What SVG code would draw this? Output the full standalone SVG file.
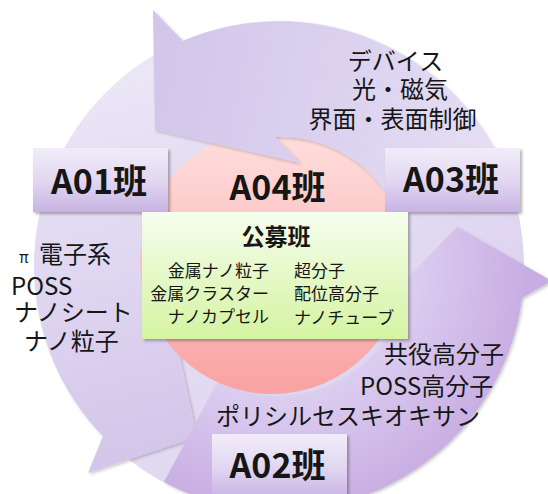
<svg xmlns="http://www.w3.org/2000/svg" width="548" height="494" viewBox="0 0 548 494">
<defs>
<style>
.t{font-family:'Noto Sans CJK JP','Noto Sans',sans-serif;fill:#161616}
.lbl{font-size:34px;font-weight:bold;text-anchor:middle}
.ann{font-size:24px}
.item{font-size:17px}
</style>
<linearGradient id="gBg" x1="0" y1="0" x2="1" y2="1">
<stop offset="0" stop-color="#eeeaf7"/><stop offset="1" stop-color="#d9cdee"/>
</linearGradient>
<linearGradient id="gTop" gradientUnits="userSpaceOnUse" x1="160" y1="80" x2="500" y2="150">
<stop offset="0" stop-color="#d2c6ea"/><stop offset="0.6" stop-color="#ddd4f0"/><stop offset="1" stop-color="#e6dff3"/>
</linearGradient>
<linearGradient id="gLeft" gradientUnits="userSpaceOnUse" x1="90" y1="90" x2="170" y2="450">
<stop offset="0" stop-color="#ebe6f6"/><stop offset="1" stop-color="#d3c6ea"/>
</linearGradient>
<radialGradient id="gBot" gradientUnits="userSpaceOnUse" cx="279" cy="266" r="250">
<stop offset="0.5" stop-color="#dccff0"/><stop offset="0.72" stop-color="#d4c0eb"/><stop offset="1" stop-color="#c8ade2"/>
</radialGradient>
<linearGradient id="gPink" x1="0" y1="0" x2="0" y2="1">
<stop offset="0" stop-color="#ffdede"/><stop offset="1" stop-color="#f9a2a2"/>
</linearGradient>
<linearGradient id="gBox" x1="0" y1="0" x2="0" y2="1">
<stop offset="0" stop-color="#f1ecf9"/><stop offset="0.5" stop-color="#e2d8f2"/><stop offset="1" stop-color="#c8b3e4"/>
</linearGradient>
<linearGradient id="gGreen" x1="0" y1="0" x2="0" y2="1">
<stop offset="0" stop-color="#f5fded"/><stop offset="1" stop-color="#d5f4a2"/>
</linearGradient>
<filter id="sh" x="-10%" y="-10%" width="125%" height="125%">
<feDropShadow dx="2" dy="2" stdDeviation="1.5" flood-color="#000" flood-opacity="0.3"/>
</filter>
<filter id="shs" x="-10%" y="-10%" width="125%" height="125%">
<feDropShadow dx="1.5" dy="1.5" stdDeviation="1.5" flood-color="#000" flood-opacity="0.22"/>
</filter>
</defs>

<g id="background">
<circle cx="279" cy="266" r="245" fill="url(#gBg)"/>
</g>

<g id="connectors">
<path id="arrow-left" filter="url(#shs)" fill="url(#gLeft)" d="M175.5,44 A245,245 0 0 0 103,436 L88,473 L197,437 L178,348 A130,130 0 0 1 239,142 Z"/>
<path id="arrow-bottom" filter="url(#shs)" fill="url(#gBot)" d="M164,482 A245,245 0 0 0 522,298 L552,281 L457,227 L408,278 A130,130 0 0 1 218,381 Z"/>
</g>

<g id="A04">
<circle cx="272" cy="262" r="132" fill="url(#gPink)"/>
</g>

<g id="connectors-top">
<path id="arrow-top" filter="url(#shs)" fill="url(#gTop)" d="M153,10 L183,41 A245,245 0 0 1 501,162.5 L397,211 A130,130 0 0 0 275,137 L300,163 L155,130 Z"/>
</g>

<g id="A04-label">
<text class="t lbl" x="277.5" y="200">A04班</text>
</g>

<g id="A01">
<rect x="33" y="148" width="135" height="64" fill="url(#gBox)" filter="url(#sh)"/>
<text class="t lbl" x="99" y="194">A01班</text>
</g>

<g id="A03">
<rect x="385" y="148" width="135" height="64" fill="url(#gBox)" filter="url(#sh)"/>
<text class="t lbl" x="451" y="192">A03班</text>
</g>

<g id="A02">
<rect x="212" y="434" width="135" height="64" fill="url(#gBox)" filter="url(#sh)"/>
<text class="t lbl" x="277.5" y="478">A02班</text>
</g>

<g id="koubo">
<rect x="142" y="212" width="266" height="127" fill="url(#gGreen)" filter="url(#sh)"/>
<text class="t" x="276" y="245" font-size="23" font-weight="bold" text-anchor="middle">公募班</text>
<g class="t item" text-anchor="end">
<text x="269" y="277">金属ナノ粒子</text>
<text x="269" y="300">金属クラスター</text>
<text x="269" y="323">ナノカプセル</text>
</g>
<g class="t item">
<text x="294" y="277">超分子</text>
<text x="294" y="300">配位高分子</text>
<text x="294" y="324">ナノチューブ</text>
</g>
</g>

<g id="A03-topics" class="t ann" text-anchor="middle">
<text x="395.5" y="70">デバイス</text>
<text x="400" y="98">光・磁気</text>
<text x="392.5" y="128">界面・表面制御</text>
</g>

<g id="A01-topics" class="t ann">
<text x="19" y="263"><tspan font-size="15">π</tspan><tspan x="39">電子系</tspan></text>
<text x="11" y="295">POSS</text>
<text x="14" y="321">ナノシート</text>
<text x="24" y="350">ナノ粒子</text>
</g>

<g id="A02-topics" class="t ann">
<text x="384" y="363">共役高分子</text>
<text x="360" y="395">POSS高分子</text>
<text x="216" y="425">ポリシルセスキオキサン</text>
</g>
</svg>
